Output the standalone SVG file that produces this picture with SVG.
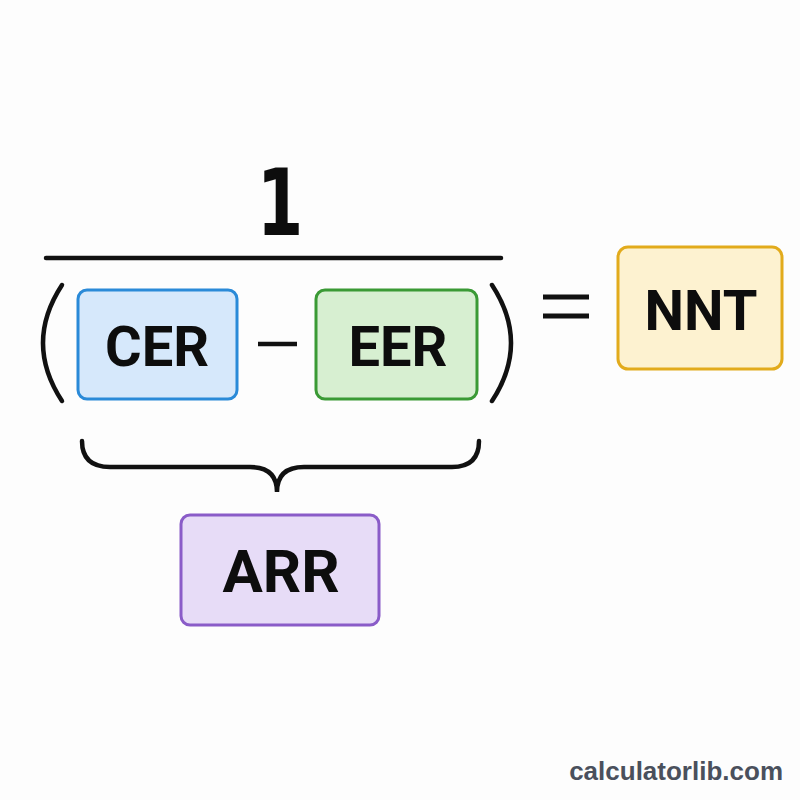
<svg xmlns="http://www.w3.org/2000/svg" width="800" height="800" viewBox="0 0 800 800">
<style>
.lbl{font-family:Roboto,"Liberation Sans",sans-serif;font-weight:700;fill:#0d0d0d;text-anchor:middle}
.ln{fill:none;stroke:#111;stroke-width:4.5;stroke-linecap:round}
.box{stroke-width:3}
</style>
<rect width="800" height="800" fill="#fdfdfd"/>
<g id="connectors">
<text transform="translate(280,235) scale(0.72,1)" x="0" y="0" font-family="DejaVu Sans,sans-serif" font-weight="700" font-size="93" fill="#0d0d0d" text-anchor="middle">1</text>
<line class="ln" x1="46" y1="258" x2="501" y2="258"/>
<path class="ln" d="M62,285 Q24,343 62,401"/>
<path class="ln" d="M492,285 Q530,343 492,401"/>
<line x1="258" y1="344" x2="297" y2="344" stroke="#111" stroke-width="4.5"/>
<g stroke="#111" stroke-width="5"><line x1="543" y1="297" x2="589" y2="297"/><line x1="543" y1="316" x2="589" y2="316"/></g>
<path class="ln" d="M82,441 Q82,467 110,467 L250,467 Q277,467 277,492 Q277,467 304,467 L452,467 Q479,467 479,441"/>
</g>
<g id="cer">
<rect class="box" x="78" y="290" width="159" height="109" rx="9" fill="#d6e8fb" stroke="#2a8ad8"/>
<text class="lbl" x="157" y="366" font-size="56">CER</text>
</g>
<g id="eer">
<rect class="box" x="316" y="290" width="161" height="109" rx="9" fill="#d7efd1" stroke="#3a9a35"/>
<text class="lbl" x="398" y="366" font-size="56">EER</text>
</g>
<g id="nnt">
<rect class="box" x="618" y="247" width="164" height="122" rx="10" fill="#fdf2d0" stroke="#e2ab1c"/>
<text class="lbl" x="701" y="330" font-size="56">NNT</text>
</g>
<g id="arr">
<rect class="box" x="181" y="515" width="198" height="110" rx="9" fill="#e7dcf7" stroke="#8a5cc8"/>
<text class="lbl" x="281" y="592" font-size="60">ARR</text>
</g>
<text x="783" y="780" font-family="Liberation Sans,Arial,sans-serif" font-weight="700" font-size="26" fill="#4a505c" text-anchor="end">calculatorlib.com</text>
</svg>
